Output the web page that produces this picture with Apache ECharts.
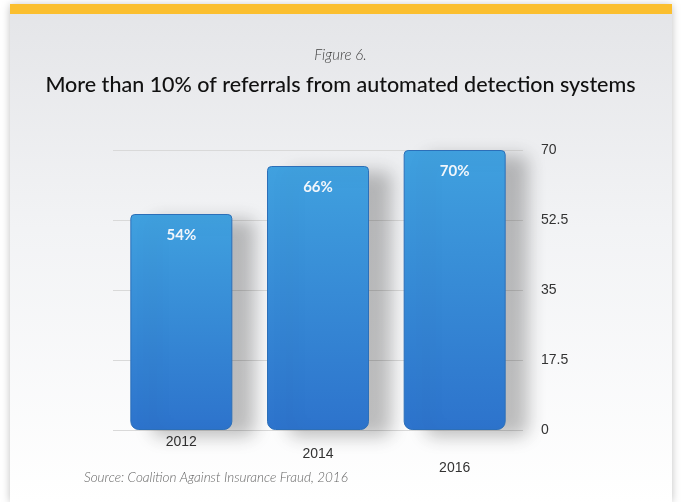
<!DOCTYPE html>
<html><head><meta charset="utf-8">
<script src="https://cdn.jsdelivr.net/npm/echarts@6/dist/echarts.min.js"></script>
<style>html,body{margin:0;padding:0;background:#fff}#c{width:681px;height:502px}</style>
</head><body><div id="c"></div>
<script>
const categories = ['2012', '2014', '2016'];
const values = [54, 66, 70];
const valueLabels = ['54%', '66%', '70%'];
const yTicks = [0, 17.5, 35, 52.5, 70];
const labelOffsets = [0, 12, 26];

const chart = echarts.init(document.getElementById('c'));
chart.setOption({
  animation: false,
  backgroundColor: '#ffffff',
  graphic: [
    { type: 'rect', shape: { x: 10, y: 5, width: 662, height: 497 },
      style: { fill: new echarts.graphic.LinearGradient(0, 0, 0, 1, [
        { offset: 0, color: '#e4e5e8' }, { offset: 0.45, color: '#f2f3f5' }, { offset: 1, color: '#ffffff' }]),
        shadowBlur: 8, shadowColor: 'rgba(0,0,0,0.25)' }, z: -10 },
    { type: 'rect', shape: { x: 10, y: 4, width: 662, height: 10 }, style: { fill: '#fbbf2f' }, z: -9 },
    { type: 'text', left: 'center', top: 48, style: { text: 'Figure 6.', font: 'italic 300 15px Lato', fill: '#444' } },
    { type: 'text', left: 'center', top: 74, style: { text: 'More than 10% of referrals from automated detection systems', font: '500 21.5px Lato', fill: '#111' } },
    { type: 'text', left: 84, top: 471, style: { text: 'Source: Coalition Against Insurance Fraud, 2016', font: 'italic 300 13.5px Lato', fill: '#666' } }
  ],
  grid: { left: 113, right: 158, top: 150, bottom: 72 },
  xAxis: {
    type: 'category',
    data: categories.map((c, i) => ({ value: c, textStyle: { padding: [labelOffsets[i], 0, 0, 0] } })),
    axisLine: { show: false }, axisTick: { show: false },
    axisLabel: { color: '#333', fontSize: 14, fontFamily: 'Liberation Sans', margin: 5 }
  },
  yAxis: {
    type: 'value', position: 'right', min: 0, max: 70, interval: 17.5,
    axisLine: { show: false }, axisTick: { show: false },
    axisLabel: { color: '#333', fontSize: 14, fontFamily: 'Liberation Sans', margin: 18,
      formatter: v => yTicks.includes(v) ? String(v) : '' },
    splitLine: { lineStyle: { color: '#d9d9d9', width: 1 } }
  },
  series: [{
    type: 'bar',
    data: values,
    barWidth: 102,
    itemStyle: {
      color: new echarts.graphic.LinearGradient(0, 0, 0, 1, [
        { offset: 0, color: '#40a1df' }, { offset: 1, color: '#2d73cc' }]),
      borderRadius: [4, 4, 8, 8],
      borderColor: '#2c6fb8', borderWidth: 1,
      shadowBlur: 18, shadowOffsetX: 22, shadowOffsetY: 6, shadowColor: 'rgba(0,0,0,0.25)'
    },
    label: { show: true, position: 'insideTop', distance: 14,
      formatter: p => valueLabels[p.dataIndex],
      color: '#f2f6fb', fontSize: 15, fontWeight: 'bold', fontFamily: 'Lato' }
  }]
});
</script></body></html>
